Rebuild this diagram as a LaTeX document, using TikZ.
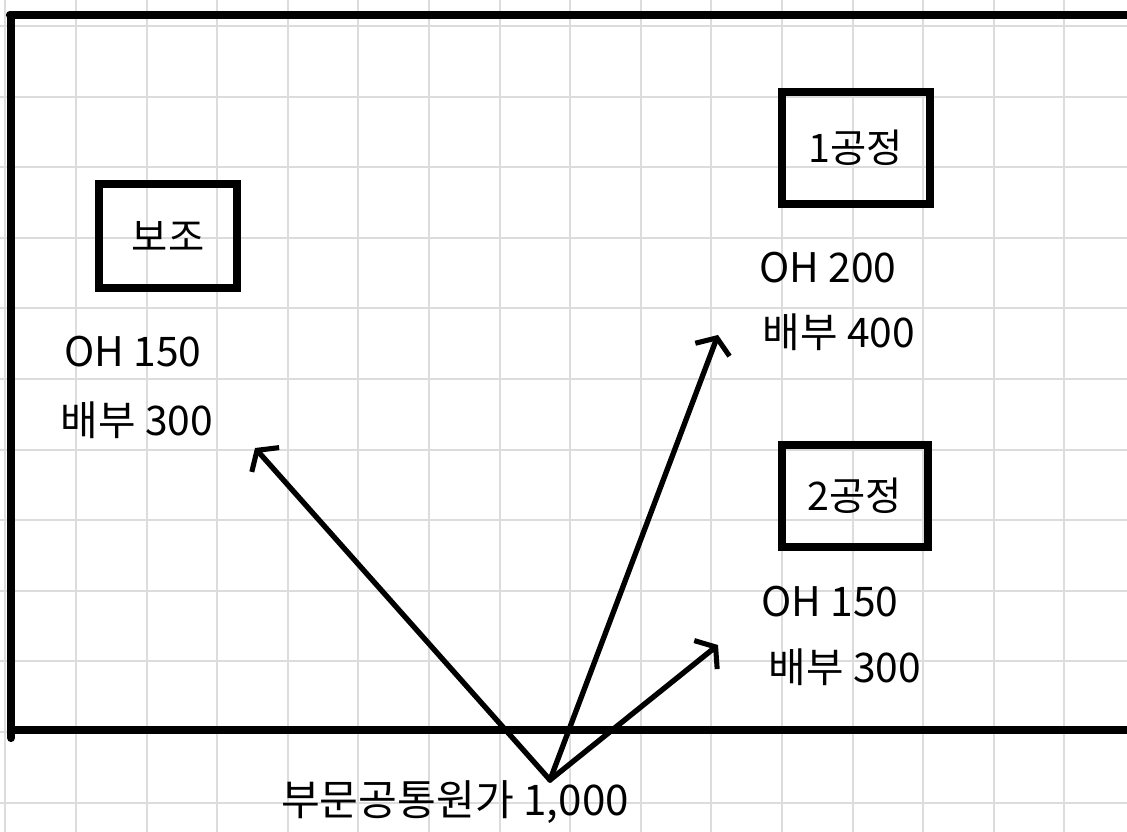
\documentclass[tikz,border=0pt]{standalone}
\usepackage{fontspec}
\newfontfamily\kfont{Noto Sans CJK KR}
\usetikzlibrary{arrows.meta}
\definecolor{gridgray}{HTML}{DCDCDC}

\begin{document}
\begin{tikzpicture}[x=0.025cm, y=-0.025cm,
      every node/.style={inner sep=0pt},
      gridline/.style={gridgray, line width=1.3pt},
      frame/.style={line width=5.8pt, line cap=round},
      dept/.style={draw, line width=5.8pt, font=\kfont\fontsize{28}{33}\selectfont},
      lbl/.style={font=\kfont\fontsize{29}{34}\selectfont},
      arr/.style={-{Straight Barb[length=9pt, width=26pt, line width=3.6pt]}, line width=3.8pt, line cap=round}
    ]
    \useasboundingbox[fill=white] (0,0) rectangle (1127,832);
    % grid paper
    \foreach \i in {0,...,15} \draw[gridline] ({5.4+70.6*\i},0) -- ++(0,832);
    \foreach \j in {0,...,11} \draw[gridline] (0,{26+70.6*\j}) -- ++(1127,0);

    % outer frame
    \draw[frame] (10,15) -- (1127,15);
    \draw[frame] (11,15) -- (11,738);
    \draw[frame] (11,730) -- (1127,730);

    % departments
    \node[dept, minimum width=3.43cm, minimum height=2.6cm] (bojo) at (168,236) {보조};
    \node[dept, minimum width=3.68cm, minimum height=2.78cm] (p1) at (856,148) {1공정};
    \node[dept, minimum width=3.63cm, minimum height=2.55cm] (p2) at (855,496) {2공정};

    \node[lbl] (ohA)  at (133,352) {OH 150};
    \node[lbl] (baeA) at (137,420) {배부 300};
    \node[lbl] (ohB)  at (828,268) {OH 200};
    \node[lbl] (baeB) at (839,332) {배부 400};
    \node[lbl] (ohC)  at (830,602) {OH 150};
    \node[lbl] (baeC) at (845,667) {배부 300};

    \node[lbl, font=\kfont\fontsize{30}{35}\selectfont] (total) at (455,802) {부문공통원가 1,000};

    % allocation arrows
    \coordinate (src) at (550,780);
    \coordinate (toA) at (255,448);
    \coordinate (toB) at (718,335);
    \coordinate (toC) at (718,645);
    \draw[arr] (src) -- (toA);
    \draw[arr] (src) -- (toB);
    \draw[arr] (src) -- (toC);
  \end{tikzpicture}
\end{document}
